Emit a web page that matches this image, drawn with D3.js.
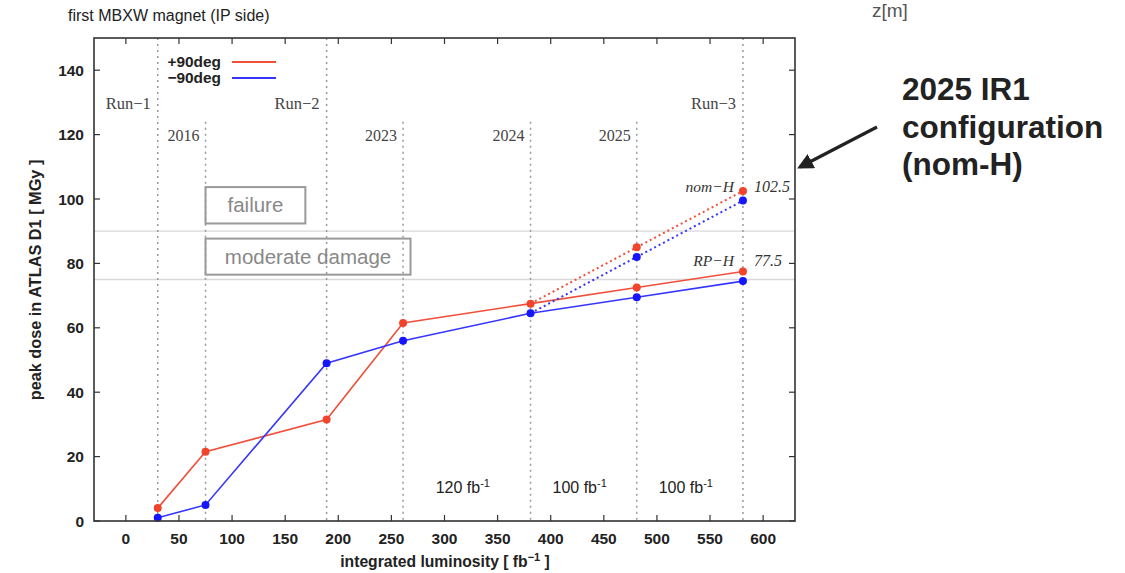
<!DOCTYPE html>
<html><head><meta charset="utf-8">
<script src="https://cdn.jsdelivr.net/npm/d3@7"></script>
<style>
html,body{margin:0;padding:0;background:#fff;}
svg{display:block;}
text{font-family:"Liberation Sans",Arial,Helvetica,sans-serif;}
.serif{font-family:"Liberation Serif","DejaVu Serif",serif;}
</style></head>
<body>
<svg id="chart" width="1125" height="573"></svg>
<script>
// ---- data ----
const xTicks = [0, 50, 100, 150, 200, 250, 300, 350, 400, 450, 500, 550, 600];
const yTicks = [0, 20, 40, 60, 80, 100, 120, 140];
const lumi = [30, 75, 189, 261, 381, 481, 581];
const plus90 = [4, 21.5, 31.5, 61.5, 67.5, 72.5, 77.5];
const minus90 = [1, 5, 49, 56, 64.5, 69.5, 74.5];
const projLumi = [381, 481, 581];
const plus90NomH = [67.5, 85, 102.5];
const minus90NomH = [64.5, 82, 99.5];
const runBoundaries = [30, 189, 581];
const runLabels = ["Run\u22121", "Run\u22122", "Run\u22123"];
const yearBoundaries = [75, 261, 381, 481];
const yearLabels = ["2016", "2023", "2024", "2025"];
const thresholds = [90, 75];
const damageLabels = ["failure", "moderate damage"];
const damageX = [[75, 169], [75, 268]];
const damageY = [[92.4, 103.7], [76.5, 87.7]];
const periodMid = [321, 431, 531];
const periodLumi = ["120", "100", "100"];
const seriesNames = ["+90deg", "\u221290deg"];
const scenarioLabels = ["nom\u2212H", "RP\u2212H"];
const scenarioValues = ["102.5", "77.5"];

// ---- layout ----
const svg = d3.select("#chart");
const L = 94, R = 795, T = 38, B = 521;
const x = d3.scaleLinear().domain([-30, 630]).range([L, R]);
const y = d3.scaleLinear().domain([0, 150]).range([B, T]);
const RED = "#f2442c", REDL = "#f0503a", BLUE = "#1515ff", BLUEL = "#3535ff";

// title and z[m]
svg.append("text").attr("x", 68).attr("y", 21).attr("font-size", 16).attr("fill", "#222").text("first MBXW magnet (IP side)");
svg.append("text").attr("x", 872).attr("y", 17).attr("font-size", 19).attr("fill", "#555").text("z[m]");

// threshold lines
svg.selectAll(".thr").data(thresholds).join("line")
  .attr("x1", L).attr("x2", R).attr("y1", d => y(d)).attr("y2", d => y(d))
  .attr("stroke", "#d8d8d8").attr("stroke-width", 1.3);

// run boundaries (full height)
svg.selectAll(".runl").data(runBoundaries).join("line")
  .attr("x1", d => x(d)).attr("x2", d => x(d)).attr("y1", T).attr("y2", B)
  .attr("stroke", "#999").attr("stroke-width", 1.5).attr("stroke-dasharray", "2,4");
// year boundaries
svg.selectAll(".yearl").data(yearBoundaries).join("line")
  .attr("x1", d => x(d)).attr("x2", d => x(d)).attr("y1", y(124)).attr("y2", B)
  .attr("stroke", "#999").attr("stroke-width", 1.5).attr("stroke-dasharray", "2,4");

// run and year labels
svg.selectAll(".runt").data(runBoundaries).join("text")
  .attr("class", "serif").attr("x", d => x(d) - 7).attr("y", y(128))
  .attr("text-anchor", "end").attr("font-size", 16.5).attr("fill", "#444")
  .text((d, i) => runLabels[i]);
svg.selectAll(".yeart").data(yearBoundaries).join("text")
  .attr("class", "serif").attr("x", d => x(d) - 6).attr("y", y(118))
  .attr("text-anchor", "end").attr("font-size", 16).attr("fill", "#444")
  .text((d, i) => yearLabels[i]);

// damage boxes
damageLabels.forEach((lab, i) => {
  svg.append("rect").attr("x", x(damageX[i][0])).attr("y", y(damageY[i][1]))
    .attr("width", x(damageX[i][1]) - x(damageX[i][0]))
    .attr("height", y(damageY[i][0]) - y(damageY[i][1]))
    .attr("fill", "none").attr("stroke", "#9a9a9a").attr("stroke-width", 2);
  svg.append("text").attr("x", (x(damageX[i][0]) + x(damageX[i][1])) / 2)
    .attr("y", (y(damageY[i][0]) + y(damageY[i][1])) / 2 + 7)
    .attr("text-anchor", "middle").attr("font-size", 20.5).attr("fill", "#888").text(lab);
});

// integrated luminosity per period
periodMid.forEach((m, i) => {
  const t = svg.append("text").attr("x", x(m) - 4).attr("y", y(8.7))
    .attr("text-anchor", "middle").attr("font-size", 16).attr("fill", "#222");
  t.append("tspan").text(periodLumi[i] + " fb");
  t.append("tspan").attr("dy", -6).attr("font-size", 11).text("-1");
});

// series lines
const line = d3.line().x(d => x(d[0])).y(d => y(d[1]));
const series = [
  { vals: plus90, proj: plus90NomH, c: RED, lc: REDL },
  { vals: minus90, proj: minus90NomH, c: BLUE, lc: BLUEL }
];
series.forEach(s => {
  svg.append("path").datum(projLumi.map((v, i) => [v, s.proj[i]])).attr("d", line)
    .attr("fill", "none").attr("stroke", s.lc).attr("stroke-width", 2).attr("stroke-dasharray", "2,3");
  svg.append("path").datum(lumi.map((v, i) => [v, s.vals[i]])).attr("d", line)
    .attr("fill", "none").attr("stroke", s.lc).attr("stroke-width", 1.6);
});
series.forEach(s => {
  svg.append("g").selectAll("circle").data(lumi.map((v, i) => [v, s.vals[i]]).concat(projLumi.slice(1).map((v, i) => [v, s.proj[i + 1]])))
    .join("circle").attr("cx", d => x(d[0])).attr("cy", d => y(d[1])).attr("r", 4).attr("fill", s.c);
});

// scenario annotations
const scenY = [plus90NomH[2], plus90[plus90.length - 1]];
scenarioLabels.forEach((lab, i) => {
  svg.append("text").attr("class", "serif").attr("x", x(581) - 9).attr("y", y(scenY[i]) + (i === 0 ? 1 : -5))
    .attr("text-anchor", "end").attr("font-size", 15.5).attr("font-style", "italic").attr("fill", "#333").text(lab);
  svg.append("text").attr("class", "serif").attr("x", x(581) + 11).attr("y", y(scenY[i]) + (i === 0 ? 1 : -5))
    .attr("font-size", 16).attr("font-style", "italic").attr("fill", "#333").text(scenarioValues[i]);
});

// legend
const legCol = [REDL, BLUEL];
seriesNames.forEach((n, i) => {
  svg.append("text").attr("x", 221).attr("y", 67 + i * 16).attr("text-anchor", "end")
    .attr("font-size", 15.4).attr("font-weight", "bold").attr("fill", "#222").text(n);
  svg.append("line").attr("x1", 232).attr("x2", 276).attr("y1", 62 + i * 16).attr("y2", 62 + i * 16)
    .attr("stroke", legCol[i]).attr("stroke-width", 1.8);
});

// frame and ticks
svg.append("rect").attr("x", L).attr("y", T).attr("width", R - L).attr("height", B - T)
  .attr("fill", "none").attr("stroke", "#333").attr("stroke-width", 1.6);
const tick = 6;
svg.append("g").selectAll("line").data(xTicks).join("line")
  .attr("x1", d => x(d)).attr("x2", d => x(d)).attr("y1", B).attr("y2", B - tick).attr("stroke", "#333").attr("stroke-width", 1.2);
svg.append("g").selectAll("line").data(xTicks).join("line")
  .attr("x1", d => x(d)).attr("x2", d => x(d)).attr("y1", T).attr("y2", T + tick).attr("stroke", "#333").attr("stroke-width", 1.2);
svg.append("g").selectAll("line").data(yTicks).join("line")
  .attr("x1", L).attr("x2", L + tick).attr("y1", d => y(d)).attr("y2", d => y(d)).attr("stroke", "#333").attr("stroke-width", 1.2);
svg.append("g").selectAll("line").data(yTicks).join("line")
  .attr("x1", R).attr("x2", R - tick).attr("y1", d => y(d)).attr("y2", d => y(d)).attr("stroke", "#333").attr("stroke-width", 1.2);
svg.append("g").selectAll("text").data(xTicks).join("text")
  .attr("x", d => x(d)).attr("y", B + 23).attr("text-anchor", "middle")
  .attr("font-size", 15.5).attr("font-weight", "bold").attr("fill", "#222").text(d => d);
svg.append("g").selectAll("text").data(yTicks).join("text")
  .attr("x", L - 10).attr("y", d => y(d) + 5.5).attr("text-anchor", "end")
  .attr("font-size", 15.5).attr("font-weight", "bold").attr("fill", "#222").text(d => d);

// axis titles
const xt = svg.append("text").attr("x", 445).attr("y", 567).attr("text-anchor", "middle")
  .attr("font-size", 15.7).attr("font-weight", "bold").attr("fill", "#222");
xt.append("tspan").text("integrated luminosity [ fb");
xt.append("tspan").attr("dy", -6).attr("font-size", 11).text("\u22121");
xt.append("tspan").attr("dy", 6).text(" ]");
svg.append("text").attr("transform", "translate(41,280) rotate(-90)").attr("text-anchor", "middle")
  .attr("font-size", 16.3).attr("font-weight", "bold").attr("fill", "#222").text("peak dose in ATLAS D1 [ MGy ]");

// right-side callout
const callout = ["2025 IR1", "configuration", "(nom-H)"];
callout.forEach((t, i) => {
  svg.append("text").attr("x", 902).attr("y", 100 + i * 37.5).attr("font-size", 31.5)
    .attr("font-weight", "bold").attr("fill", "#222").text(t);
});
svg.append("defs").append("marker").attr("id", "ah").attr("viewBox", "0 0 10 10")
  .attr("refX", 8).attr("refY", 5).attr("markerWidth", 5).attr("markerHeight", 5)
  .attr("orient", "auto").attr("markerUnits", "strokeWidth")
  .append("path").attr("d", "M0,0 L10,5 L0,10 z").attr("fill", "#222");
svg.append("line").attr("x1", 877).attr("y1", 127).attr("x2", 800).attr("y2", 167)
  .attr("stroke", "#222").attr("stroke-width", 3.2).attr("marker-end", "url(#ah)");
</script>
</body></html>
